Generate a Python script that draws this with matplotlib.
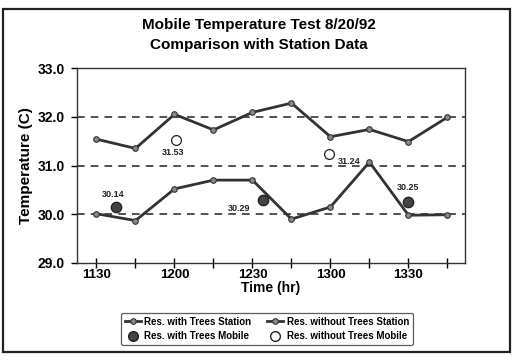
import matplotlib
matplotlib.use("Agg")
import matplotlib.pyplot as plt
from matplotlib.patches import Rectangle
from matplotlib.lines import Line2D

plt.rcParams['font.family'] = ['Liberation Sans', 'DejaVu Sans']

# Data
time_labels = ['1130', '', '1200', '', '1230', '', '1300', '', '1330', '']
with_trees_station = [30.01, 29.87, 30.52, 30.70, 30.70, 29.90, 30.15, 31.07, 29.98, 29.99]
without_trees_station = [31.54, 31.35, 32.05, 31.73, 32.09, 32.28, 31.59, 31.74, 31.49, 31.99]
with_trees_mobile_pos = [0.5, 4.26, 8.0]
with_trees_mobile = [30.14, 30.29, 30.25]
without_trees_mobile_pos = [2.03, 5.97]
without_trees_mobile = [31.53, 31.24]

fig = plt.figure(figsize=(5.17, 3.61), dpi=100)
fig.patches.append(Rectangle((3/517, 1-352/361), (510-3)/517, (352-9)/361,
                             transform=fig.transFigure, fill=False,
                             edgecolor='#222222', linewidth=1.6))

ax = fig.add_axes([77/517, 1-263/361, (465-77)/517, (263-68)/361])
x = list(range(len(time_labels)))

line_kw = dict(color='#333333', linewidth=2.0, marker='o', markersize=4,
               markerfacecolor='#888888', markeredgecolor='#333333', markeredgewidth=0.8)
ax.plot(x, with_trees_station, zorder=3, **line_kw)
ax.plot(x, without_trees_station, zorder=3, **line_kw)

ax.scatter(with_trees_mobile_pos, with_trees_mobile, s=55, color='#444444',
           edgecolor='#222222', zorder=4)
ax.scatter(without_trees_mobile_pos, without_trees_mobile, s=50, facecolor='white',
           edgecolor='#222222', linewidth=0.9, zorder=4)

lbl_kw = dict(fontsize=6.5, fontweight='bold', color='#222222')
offsets_wt = [(-2, 6, 'center', 'bottom'), (-9, -3, 'right', 'top'), (0, 7, 'center', 'bottom')]
for px, py, (dx, dy, ha, va) in zip(with_trees_mobile_pos, with_trees_mobile, offsets_wt):
    ax.annotate(f'{py:.2f}', (px, py), xytext=(dx, dy), textcoords='offset points',
                ha=ha, va=va, **lbl_kw)
offsets_wo = [(-2, -6, 'center', 'top'), (6, -2, 'left', 'top')]
for px, py, (dx, dy, ha, va) in zip(without_trees_mobile_pos, without_trees_mobile, offsets_wo):
    ax.annotate(f'{py:.2f}', (px, py), xytext=(dx, dy), textcoords='offset points',
                ha=ha, va=va, **lbl_kw)

for yv in [30, 31, 32]:
    ax.axhline(yv, color='#222222', linestyle=(0, (5, 4)), linewidth=1.1, zorder=1)

ax.set_xlim(-0.5, 9.45)
ax.set_ylim(29, 33)
ax.set_yticks([29, 30, 31, 32, 33])
ax.set_yticklabels(['29.0', '30.0', '31.0', '32.0', '33.0'], fontsize=10, fontweight='bold')
ax.set_xticks(x)
ax.set_xticklabels(time_labels, fontsize=9.5, fontweight='bold')
ax.tick_params(axis='x', direction='inout', length=7, width=1, pad=1)
ax.tick_params(axis='y', direction='out', length=4, width=1, pad=5)
for s in ax.spines.values():
    s.set_linewidth(1.0)
    s.set_color('#333333')

ax.set_ylabel('Temperature (C)', fontsize=11, fontweight='bold', labelpad=3)
ax.set_xlabel('Time (hr)', fontsize=10, fontweight='bold', labelpad=0)

fig.text(0.5, 1-25/361, 'Mobile Temperature Test 8/20/92', ha='center', va='center',
         fontsize=11, fontweight='bold')
fig.text(0.5, 1-45/361, 'Comparison with Station Data', ha='center', va='center',
         fontsize=11, fontweight='bold')

handles = [
    Line2D([], [], **line_kw),
    Line2D([], [], linestyle='none', marker='o', markersize=7, markerfacecolor='#444444',
           markeredgecolor='#222222'),
    Line2D([], [], **line_kw),
    Line2D([], [], linestyle='none', marker='o', markersize=7, markerfacecolor='white',
           markeredgecolor='#222222'),
]
labels = ['Res. with Trees Station', 'Res. with Trees Mobile',
          'Res. without Trees Station', 'Res. without Trees Mobile']
leg = fig.legend(handles, labels, ncol=2, loc='center',
                 bbox_to_anchor=(267/517, 1-329/361),
                 prop={'size': 7, 'weight': 'bold'}, frameon=True, fancybox=True,
                 edgecolor='#333333', handlelength=1.6, handletextpad=0.4,
                 columnspacing=1.6, labelspacing=0.45, borderpad=0.4)
leg.get_frame().set_linewidth(0.9)

fig.savefig('out.png', dpi=100)
